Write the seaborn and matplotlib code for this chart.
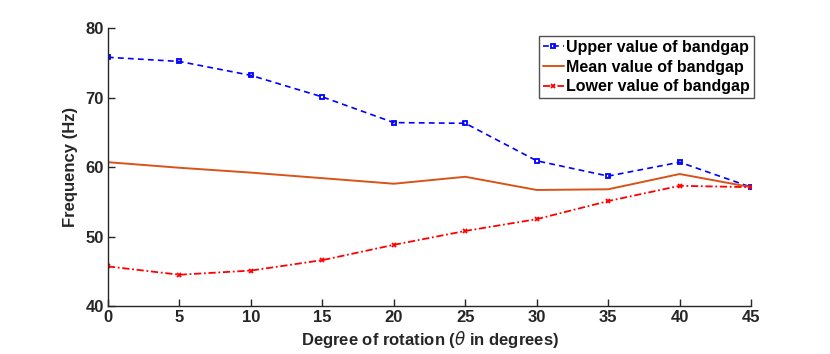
import matplotlib
matplotlib.use("Agg")
import matplotlib.pyplot as plt
import seaborn as sns
import numpy as np

sns.set_theme(style="white")
plt.rcParams['font.family'] = ['Liberation Sans', 'DejaVu Sans']
plt.rcParams['font.weight'] = 'bold'
plt.rcParams['mathtext.fontset'] = 'custom'
plt.rcParams['mathtext.it'] = 'DejaVu Sans:italic:weight=normal'
plt.rcParams['mathtext.rm'] = 'DejaVu Sans:weight=normal'

angles = [0, 5, 10, 15, 20, 25, 30, 35, 40, 45]
upper = [75.8, 75.2, 73.2, 70.1, 66.4, 66.3, 60.9, 58.7, 60.7, 57.1]
mean = [60.7, 59.9, 59.2, 58.4, 57.6, 58.6, 56.7, 56.8, 59.0, 57.1]
lower = [45.7, 44.5, 45.1, 46.6, 48.8, 50.8, 52.5, 55.1, 57.3, 57.1]
labels = ["Upper value of bandgap", "Mean value of bandgap", "Lower value of bandgap"]

fig = plt.figure(figsize=(8.3, 3.54), dpi=100)
ax = fig.add_axes([0.130, 0.1356, 0.775, 0.785])

sns.lineplot(x=angles, y=upper, ax=ax, color=(0, 0, 1), linestyle=(0, (3.5, 2.5)), lw=1.2,
             marker='s', markersize=3.5, markerfacecolor='none', markeredgecolor=(0, 0, 1),
             markeredgewidth=1.3, label=labels[0])
sns.lineplot(x=angles, y=mean, ax=ax, color=(0.85, 0.325, 0.098), lw=1.4, label=labels[1])
sns.lineplot(x=angles, y=lower, ax=ax, color=(1, 0, 0), linestyle=(0, (4, 1.5, 1, 1.5)), lw=1.3,
             marker='x', markersize=3.5, markeredgewidth=1.3, markeredgecolor=(1, 0, 0),
             label=labels[2])

ax.set_xlim(0, 45)
ax.set_ylim(40, 80)
ax.set_xticks(angles)
ax.set_yticks([40, 50, 60, 70, 80])
for s in ['top', 'right']:
    ax.spines[s].set_visible(False)
for s in ['left', 'bottom']:
    ax.spines[s].set_color('#262626')
    ax.spines[s].set_linewidth(1.0)
ax.tick_params(direction='in', length=5, width=1, colors='#262626', labelsize=12,
               left=True, bottom=True, pad=3)
for t in ax.get_xticklabels() + ax.get_yticklabels():
    t.set_fontweight('bold')
ax.set_xlabel(r"Degree of rotation ($\theta$ in degrees)", fontsize=12, fontweight='bold',
              color='#262626', labelpad=3)
ax.set_ylabel("Frequency (Hz)", fontsize=12, fontweight='bold', color='#262626', labelpad=5)

leg = ax.legend(loc='upper right', bbox_to_anchor=(1.004, 0.972), frameon=True, fancybox=False,
                edgecolor='#262626', fontsize=11.5, handlelength=1.3, handletextpad=0.15,
                borderpad=0.25, labelspacing=0.3, borderaxespad=0.0)
leg.get_frame().set_linewidth(1.0)
for t in leg.get_texts():
    t.set_fontweight('bold')
    t.set_color('black')

fig.savefig("out.png", dpi=100)
